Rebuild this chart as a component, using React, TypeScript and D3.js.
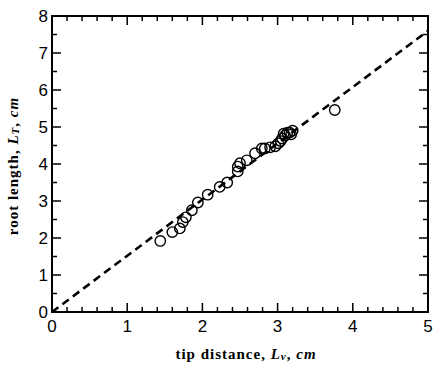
import React, { useRef, useEffect } from 'react';
import * as d3 from 'd3';

// tip distance Lv (cm)
const tipDistance = [1.44, 1.60, 1.70, 1.74, 1.78, 1.86, 1.94, 2.07, 2.23, 2.33, 2.47, 2.47, 2.50, 2.59, 2.70, 2.79, 2.83, 2.90, 2.97, 3.01, 3.04, 3.06, 3.10, 3.08, 3.13, 3.16, 3.20, 3.18, 3.76];
// root length LT (cm)
const rootLength = [1.92, 2.16, 2.26, 2.43, 2.56, 2.75, 2.96, 3.17, 3.38, 3.50, 3.80, 3.93, 4.02, 4.10, 4.29, 4.42, 4.42, 4.45, 4.48, 4.56, 4.62, 4.69, 4.77, 4.82, 4.85, 4.85, 4.90, 4.80, 5.46];
// fitted line LT = k * Lv
const fitSlope = 1.52;
const xTicks = [0, 1, 2, 3, 4, 5];
const yTicks = [0, 1, 2, 3, 4, 5, 6, 7, 8];

export default function App() {
  const svgRef = useRef<SVGSVGElement>(null);

  useEffect(() => {
    const width = 443;
    const height = 370;
    const left = 52, right = 428, top = 16, bottom = 312;

    const svg = d3.select(svgRef.current)
      .attr('width', width)
      .attr('height', height);
    svg.selectAll('*').remove();

    svg.append('rect').attr('width', width).attr('height', height).attr('fill', 'white');

    const x = d3.scaleLinear().domain([0, 5]).range([left, right]);
    const y = d3.scaleLinear().domain([0, 8]).range([bottom, top]);

    const g = svg.append('g');

    // dashed fit line, clipped to the frame
    g.append('clipPath').attr('id', 'plotclip')
      .append('rect').attr('x', left).attr('y', top).attr('width', right - left).attr('height', bottom - top);

    g.append('line')
      .attr('clip-path', 'url(#plotclip)')
      .attr('x1', x(0)).attr('y1', y(0))
      .attr('x2', x(5)).attr('y2', y(5 * fitSlope))
      .attr('stroke', 'black')
      .attr('stroke-width', 2.6)
      .attr('stroke-dasharray', '8,5');

    // points
    g.selectAll('circle.pt')
      .data(tipDistance.map((d, i) => [d, rootLength[i]]))
      .join('circle')
      .attr('class', 'pt')
      .attr('cx', d => x(d[0]))
      .attr('cy', d => y(d[1]))
      .attr('r', 5.2)
      .attr('fill', 'none')
      .attr('stroke', 'black')
      .attr('stroke-width', 1.4);

    // ticks inside on all sides
    const xMinor = d3.range(0, 5.001, 0.2);
    const yMinor = d3.range(0, 8.001, 0.5);
    const isMajor = (v: number) => Math.abs(v - Math.round(v)) < 1e-6;

    const ticks = g.append('g').attr('stroke', 'black').attr('stroke-width', 1.5);
    xMinor.forEach(v => {
      const len = isMajor(v) ? 9 : 5;
      ticks.append('line').attr('x1', x(v)).attr('x2', x(v)).attr('y1', bottom).attr('y2', bottom - len);
      ticks.append('line').attr('x1', x(v)).attr('x2', x(v)).attr('y1', top).attr('y2', top + len);
    });
    yMinor.forEach(v => {
      const len = isMajor(v) ? 9 : 5;
      ticks.append('line').attr('y1', y(v)).attr('y2', y(v)).attr('x1', left).attr('x2', left + len);
      ticks.append('line').attr('y1', y(v)).attr('y2', y(v)).attr('x1', right).attr('x2', right - len);
    });

    // frame
    g.append('rect')
      .attr('x', left).attr('y', top)
      .attr('width', right - left).attr('height', bottom - top)
      .attr('fill', 'none')
      .attr('stroke', 'black')
      .attr('stroke-width', 2);

    // tick labels
    g.selectAll('text.xt')
      .data(xTicks)
      .join('text')
      .attr('class', 'xt')
      .attr('x', d => x(d))
      .attr('y', bottom + 20)
      .attr('text-anchor', 'middle')
      .attr('font-family', 'Liberation Sans, Arial, sans-serif')
      .attr('font-size', 17)
      .text(d => d);

    g.selectAll('text.yt')
      .data(yTicks)
      .join('text')
      .attr('class', 'yt')
      .attr('x', left - 4)
      .attr('y', d => y(d) + 6)
      .attr('text-anchor', 'end')
      .attr('font-family', 'Liberation Sans, Arial, sans-serif')
      .attr('font-size', 17)
      .text(d => d);

    // axis labels
    const xl = g.append('text')
      .attr('x', 246).attr('y', 359)
      .attr('text-anchor', 'middle')
      .attr('font-family', 'Liberation Serif, serif')
      .attr('font-size', 15)
      .attr('letter-spacing', 1)
      .attr('font-weight', 'bold');
    xl.append('tspan').text('tip distance, ');
    xl.append('tspan').attr('font-style', 'italic').text('L');
    xl.append('tspan').attr('font-style', 'italic').attr('font-size', 11).attr('dy', 1).text('v');
    xl.append('tspan').attr('dy', -1).text(',  ');
    xl.append('tspan').attr('font-style', 'italic').text('cm');

    const yl = g.append('text')
      .attr('transform', `translate(18,${(top + bottom) / 2 + 2}) rotate(-90)`)
      .attr('text-anchor', 'middle')
      .attr('font-family', 'Liberation Serif, serif')
      .attr('font-size', 15)
      .attr('letter-spacing', 1)
      .attr('font-weight', 'bold');
    yl.append('tspan').text('root length, ');
    yl.append('tspan').attr('font-style', 'italic').text('L');
    yl.append('tspan').attr('font-style', 'italic').attr('font-size', 11).attr('dy', 1).text('T');
    yl.append('tspan').attr('dy', -1).text(',  ');
    yl.append('tspan').attr('font-style', 'italic').text('cm');
  }, []);

  return (
    <div style={{ position: 'absolute', left: 0, top: 0 }}>
      <svg ref={svgRef} style={{ display: 'block' }}></svg>
    </div>
  );
}
